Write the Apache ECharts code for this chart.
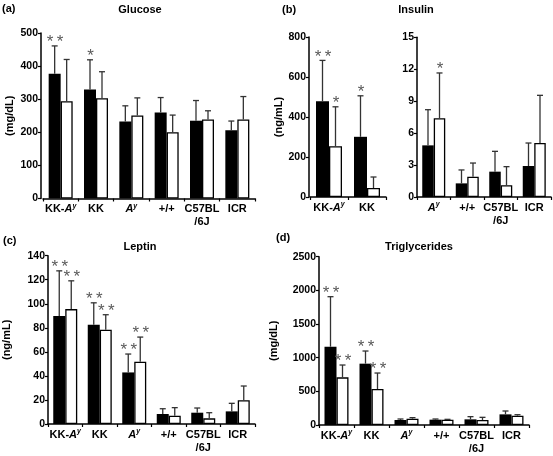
<!DOCTYPE html>
<html><head><meta charset="utf-8">
<script src="https://cdn.jsdelivr.net/npm/echarts@6/dist/echarts.min.js"></script>
<style>html,body{margin:0;padding:0;background:#fff}#c{width:553px;height:456px}</style>
</head><body><div id="c"></div>
<script>
// ---- categories ----
const categoriesAll = ['KK-Ay', 'KK', 'Ay', '+/+', 'C57BL/6J', 'ICR'];
const categoriesInsHigh = ['KK-Ay', 'KK'];
const categoriesInsLow = ['Ay', '+/+', 'C57BL/6J', 'ICR'];

// ---- (a) Glucose (mg/dL) ----
const glucoseBlack = [377, 329, 233, 260, 235, 206];
const glucoseBlackErr = [84, 90, 47, 45, 61, 28];
const glucoseWhite = [294, 303, 251, 200, 239, 239];
const glucoseWhiteErr = [126, 80, 53, 52, 26, 69];
const glucoseStarsBlack = ['**', '*', '', '', '', ''];
const glucoseStarsWhite = ['', '', '', '', '', ''];

// ---- (b) Insulin (ng/mL) ----
const insHighBlack = [479, 301];
const insHighBlackErr = [204, 205];
const insHighWhite = [254, 45];
const insHighWhiteErr = [197, 55];
const insHighStarsBlack = ['**', '*'];
const insHighStarsWhite = ['*', ''];
const insLowBlack = [4.85, 1.28, 2.38, 2.91];
const insLowBlackErr = [3.35, 1.26, 1.91, 2.16];
const insLowWhite = [7.39, 1.91, 1.10, 5.07];
const insLowWhiteErr = [4.26, 1.28, 1.75, 4.48];
const insLowStarsBlack = ['', '', '', ''];
const insLowStarsWhite = ['*', '', '', ''];

// ---- (c) Leptin (ng/mL) ----
const leptinBlack = [89.8, 82.5, 42.9, 8.3, 9.4, 10.5];
const leptinBlackErr = [37.6, 18.3, 15.3, 4.4, 3.9, 6.7];
const leptinWhite = [95.6, 78.4, 51.8, 6.9, 4.7, 19.7];
const leptinWhiteErr = [23.5, 12.5, 20.5, 6.7, 4.7, 11.9];
const leptinStarsBlack = ['**', '**', '**', '', '', ''];
const leptinStarsWhite = ['**', '**', '**', '', '', ''];

// ---- (d) Triglycerides (mg/dL) ----
const trigBlack = [1163, 911, 74, 79, 84, 158];
const trigBlackErr = [743, 188, 15, 10, 40, 50];
const trigWhite = [708, 535, 94, 79, 74, 139];
const trigWhiteErr = [183, 237, 15, 5, 40, 14];
const trigStarsBlack = ['**', '**', '', '', '', ''];
const trigStarsWhite = ['**', '**', '', '', '', ''];

const FF = '"Liberation Sans", Arial, sans-serif';

function fmtCat(v) {
  const m = {
    'KK-Ay': '{b|KK-}{i|A}{s|y}',
    'Ay': '{i|A}{s|y}',
    'C57BL/6J': '{b|C57BL}\n{b|/6J}'
  };
  return m[v] || ('{b|' + v + '}');
}
const rich = {
  b: {fontFamily: FF, fontWeight: 'bold', fontSize: 11, color: '#000', lineHeight: 13},
  i: {fontFamily: FF, fontWeight: 'bold', fontStyle: 'italic', fontSize: 11, color: '#000', lineHeight: 13},
  s: {fontFamily: FF, fontWeight: 'bold', fontStyle: 'italic', fontSize: 7, color: '#000', lineHeight: 8, verticalAlign: 'top'}
};

const grids = [
  {left: 43, top: 33, width: 212, height: 165.5},
  {left: 310, top: 37, width: 76, height: 160},
  {left: 417, top: 37.3, width: 134, height: 159.7},
  {left: 48, top: 255.7, width: 207, height: 168.3},
  {left: 319, top: 256.7, width: 210, height: 168.3}
];
const barW = [12, 13, 11.5, 12, 12];

const axisLine = {show: true, lineStyle: {color: '#000', width: 1.5}};
function xAx(idx, cats) {
  return {
    type: 'category', gridIndex: idx, data: cats,
    axisLine: axisLine,
    axisTick: {show: true, length: 3, lineStyle: {color: '#000', width: 1.2}},
    axisLabel: {interval: 0, margin: 4, formatter: fmtCat, rich: rich},
    splitLine: {show: false}
  };
}
function yAx(idx, max, interval, name, gap, offset) {
  return {
    type: 'value', gridIndex: idx, min: 0, max: max, interval: interval,
    offset: offset || 0,
    name: name, nameLocation: 'middle', nameGap: gap,
    nameTextStyle: {fontFamily: FF, fontWeight: 'bold', fontSize: 11, color: '#000'},
    axisLine: axisLine,
    axisTick: {show: true, length: 3, lineStyle: {color: '#000', width: 1.2}},
    axisLabel: {margin: 3, fontFamily: FF, fontWeight: 'bold', fontSize: 10.5, color: '#000',
      formatter: function (v) { return String(v); }},
    splitLine: {show: false}
  };
}

function bars(idx, vals, black) {
  return {
    type: 'bar', xAxisIndex: idx, yAxisIndex: idx, data: vals,
    barWidth: barW[idx], barGap: '0%',
    itemStyle: black ? {color: '#000', borderColor: '#000', borderWidth: 0}
                     : {color: '#fff', borderColor: '#000', borderWidth: 1.3},
    silent: true, animation: false, z: 2
  };
}
function errs(idx, vals, err, stars, offset) {
  return {
    type: 'custom', xAxisIndex: idx, yAxisIndex: idx,
    data: vals.map((v, i) => [i, v, v + err[i]]),
    animation: false, silent: true, z: 5,
    renderItem: function (params, api) {
      const base = api.coord([api.value(0), api.value(1)]);
      const top = api.coord([api.value(0), api.value(2)]);
      const x = base[0] + offset;
      const ch = [
        {type: 'line', shape: {x1: x, y1: base[1], x2: x, y2: top[1]}, style: {stroke: '#333', lineWidth: 1.3}},
        {type: 'line', shape: {x1: x - 3, y1: top[1], x2: x + 3, y2: top[1]}, style: {stroke: '#333', lineWidth: 1.3}}
      ];
      const s = stars[params.dataIndex];
      if (s) {
        ch.push({type: 'text', style: {
          text: s.replace('**', '*\u2009*'), x: x + 0.5, y: top[1] + 5,
          textAlign: 'center', textVerticalAlign: 'bottom',
          fontFamily: FF, fontSize: 17, fill: '#5a5a5a'
        }});
      }
      return {type: 'group', children: ch};
    }
  };
}

const series = [];
function panel(idx, bV, bE, bS, wV, wE, wS) {
  series.push(bars(idx, bV, true), bars(idx, wV, false));
  series.push(errs(idx, bV, bE, bS, -barW[idx] / 2), errs(idx, wV, wE, wS, barW[idx] / 2));
}
panel(0, glucoseBlack, glucoseBlackErr, glucoseStarsBlack, glucoseWhite, glucoseWhiteErr, glucoseStarsWhite);
panel(1, insHighBlack, insHighBlackErr, insHighStarsBlack, insHighWhite, insHighWhiteErr, insHighStarsWhite);
panel(2, insLowBlack, insLowBlackErr, insLowStarsBlack, insLowWhite, insLowWhiteErr, insLowStarsWhite);
panel(3, leptinBlack, leptinBlackErr, leptinStarsBlack, leptinWhite, leptinWhiteErr, leptinStarsWhite);
panel(4, trigBlack, trigBlackErr, trigStarsBlack, trigWhite, trigWhiteErr, trigStarsWhite);

function txt(x, y, t, align) {
  return {type: 'text', x: x, y: y, style: {
    text: t, x: 0, y: 0, textAlign: align || 'left', textVerticalAlign: 'middle',
    fontFamily: FF, fontWeight: 'bold', fontSize: 11, fill: '#000'
  }};
}

const option = {
  backgroundColor: '#fff',
  animation: false,
  grid: grids,
  xAxis: [xAx(0, categoriesAll), xAx(1, categoriesInsHigh), xAx(2, categoriesInsLow), xAx(3, categoriesAll), xAx(4, categoriesAll)],
  yAxis: [
    yAx(0, 500, 100, '(mg/dL)', 26, 2),
    yAx(1, 800, 200, '(ng/mL)', 25, 1),
    yAx(2, 15, 3, '', 20, 0),
    yAx(3, 140, 20, '(ng/mL)', 36, 0),
    yAx(4, 2500, 500, '(mg/dL)', 40, 0)
  ],
  series: series,
  graphic: [
    txt(2, 9, '(a)'), txt(140, 10, 'Glucose', 'center'),
    txt(282, 10, '(b)'), txt(416, 10, 'Insulin', 'center'),
    txt(3, 241, '(c)'), txt(140, 247, 'Leptin', 'center'),
    txt(276, 238, '(d)'), txt(419, 247, 'Triglycerides', 'center')
  ]
};
const chart = echarts.init(document.getElementById('c'), null, {renderer: 'canvas'});
chart.setOption(option);
</script></body></html>
